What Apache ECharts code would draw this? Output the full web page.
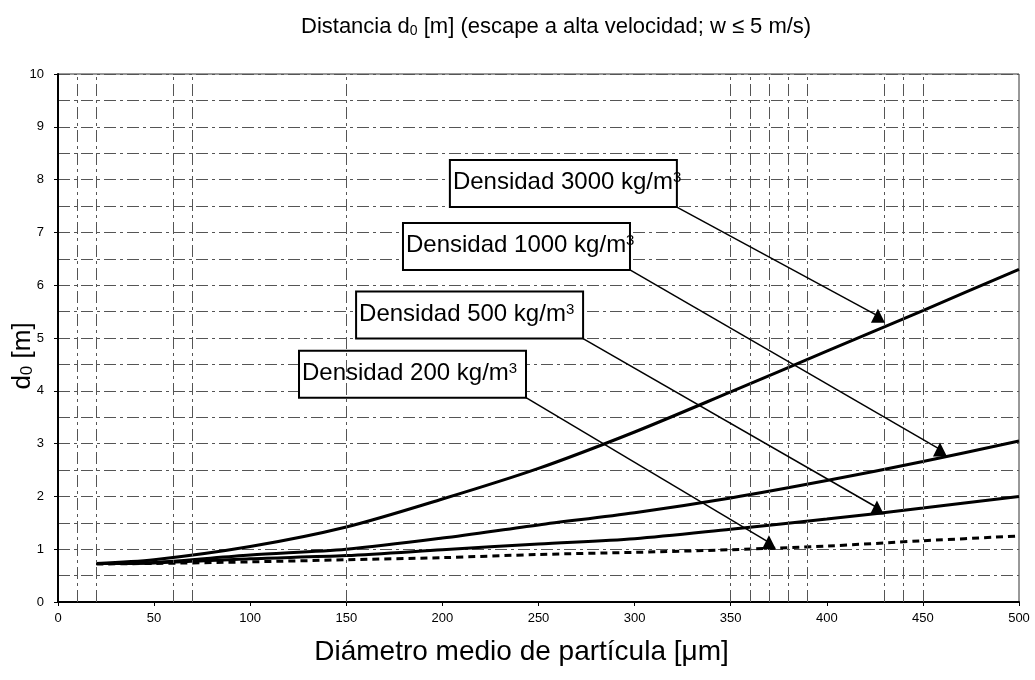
<!DOCTYPE html>
<html>
<head>
<meta charset="utf-8">
<title>Distancia d0</title>
<script src="https://cdn.jsdelivr.net/npm/echarts@6/dist/echarts.min.js"></script>
<style>
  html, body { margin: 0; padding: 0; background: #fff; }
  #chart { width: 1035px; height: 680px; }
</style>
</head>
<body>
<div id="chart"></div>
<script>
// diámetro medio de partícula [µm]
var diam = [20, 50, 100, 150, 200, 250, 300, 350, 400, 450, 500];
// d0 [m] por densidad
var d3000 = [0.73, 0.80, 1.05, 1.42, 1.95, 2.53, 3.22, 3.98, 4.75, 5.52, 6.30];
var d1000 = [0.73, 0.75, 0.89, 1.00, 1.21, 1.46, 1.69, 1.97, 2.30, 2.66, 3.05];
var d500 = [0.73, 0.74, 0.82, 0.88, 0.99, 1.10, 1.20, 1.38, 1.57, 1.78, 2.00];
var d200 = [0.72, 0.73, 0.76, 0.80, 0.84, 0.90, 0.94, 0.99, 1.06, 1.16, 1.25];

var densities = ['3000', '1000', '500', '200'];
// flechas de las etiquetas (inicio en la esquina del recuadro, fin en la punta)
var arrowFrom = [[322, 7.48], [297.6, 6.29], [273.2, 4.99], [243.5, 3.87]];
var arrowTo = [[426.6, 5.42], [458.9, 2.89], [426.1, 1.79], [369.9, 1.13]];
// líneas verticales de la cuadrícula
var vGridX = [10, 20, 60, 70, 150, 350, 360, 370, 380, 390, 430, 440, 450];

var FONT = '"Liberation Sans", Arial, sans-serif';
var gridLine = { color: '#555', width: 1, type: [12, 4, 3, 4] };

function pairs(xs, ys) {
  return xs.map(function(x, i) { return [x, ys[i]]; });
}

var chart = echarts.init(document.getElementById('chart'), null, { renderer: 'canvas' });

chart.setOption({
  animation: false,
  backgroundColor: '#fff',
  title: {
    text: 'Distancia d{sub|0} [m] (escape a alta velocidad; w ≤ 5 m/s)',
    left: 296,
    top: 11,
    textStyle: {
      fontFamily: FONT, fontSize: 22, fontWeight: 'normal', color: '#000',
      rich: {
        sub: { fontFamily: FONT, fontSize: 14, verticalAlign: 'bottom', color: '#000' }
      }
    }
  },
  grid: {
    left: 58, right: 16, top: 74, bottom: 78,
    containLabel: false,
    outerBoundsMode: 'none',
    show: true, borderColor: '#333', borderWidth: 1
  },
  xAxis: {
    type: 'value',
    min: 0, max: 500, interval: 50,
    name: 'Diámetro medio de partícula [μm]',
    nameLocation: 'middle',
    nameGap: 36,
    nameTextStyle: { fontFamily: FONT, fontSize: 28, color: '#000', padding: [0, 34, 0, 0] },
    axisLine: { lineStyle: { color: '#000', width: 2 } },
    axisTick: { show: true, length: 4, lineStyle: { color: '#000' } },
    axisLabel: { fontFamily: FONT, fontSize: 13, color: '#000', margin: 10 },
    splitLine: { show: false }
  },
  yAxis: {
    type: 'value',
    min: 0, max: 10, interval: 1,
    name: 'd{sub|0} [m]',
    nameLocation: 'middle',
    nameRotate: 90,
    nameGap: 22,
    nameMoveOverlap: false,
    nameTextStyle: {
      fontFamily: FONT, fontSize: 26, color: '#000', padding: [0, 36, 0, 0],
      rich: { sub: { fontFamily: FONT, fontSize: 17, verticalAlign: 'bottom', color: '#000' } }
    },
    axisLine: { lineStyle: { color: '#000', width: 2 } },
    axisTick: { show: true, length: 4, lineStyle: { color: '#000' } },
    axisLabel: { fontFamily: FONT, fontSize: 13, color: '#000', margin: 14 },
    splitLine: { show: true, lineStyle: gridLine },
    minorTick: { show: false, splitNumber: 2 },
    minorSplitLine: { show: true, lineStyle: gridLine }
  },
  series: [
    {
      name: 'grid',
      type: 'line',
      data: [],
      silent: true,
      markLine: {
        silent: true,
        symbol: 'none',
        label: { show: false },
        lineStyle: gridLine,
        data: vGridX.map(function(x) { return { xAxis: x }; })
      }
    },
    {
      name: 'Densidad 3000', type: 'line', smooth: 0.3, showSymbol: false,
      data: pairs(diam, d3000),
      lineStyle: { color: '#000', width: 3 }
    },
    {
      name: 'Densidad 1000', type: 'line', smooth: 0.3, showSymbol: false,
      data: pairs(diam, d1000),
      lineStyle: { color: '#000', width: 3 }
    },
    {
      name: 'Densidad 500', type: 'line', smooth: 0.3, showSymbol: false,
      data: pairs(diam, d500),
      lineStyle: { color: '#000', width: 3 }
    },
    {
      name: 'Densidad 200', type: 'line', smooth: 0.3, showSymbol: false,
      data: pairs(diam, d200),
      lineStyle: { color: '#000', width: 3, type: [7, 5] }
    },
    {
      name: 'arrows',
      type: 'line',
      data: [],
      silent: true,
      markLine: {
        silent: true,
        symbol: ['none', 'triangle'],
        symbolSize: 14,
        symbolRotate: 0,
        label: { show: false },
        lineStyle: { color: '#000', width: 1.5, type: 'solid' },
        itemStyle: { color: '#000' },
        data: arrowFrom.map(function(p, i) {
          return [{ coord: p }, { coord: arrowTo[i] }];
        })
      }
    }
  ]
});

// recuadros de texto, anclados por su esquina inferior derecha al inicio de cada flecha
var boxW = 227, boxH = 47;
var boxes = densities.map(function(d, i) {
  var pt = chart.convertToPixel({ gridIndex: 0 }, arrowFrom[i]);
  return {
    type: 'group',
    x: pt[0] - boxW,
    y: pt[1] - boxH,
    z: 100,
    children: [
      {
        type: 'rect',
        shape: { x: 0, y: 0, width: boxW, height: boxH },
        style: { fill: '#fff', stroke: '#000', lineWidth: 2 }
      },
      {
        type: 'text',
        x: 3,
        y: boxH / 2 - 1,
        style: {
          text: 'Densidad ' + d + ' kg/m{sup|3}',
          fontFamily: FONT, fontSize: 24, fill: '#000',
          verticalAlign: 'middle',
          rich: {
            sup: { fontFamily: FONT, fontSize: 15, verticalAlign: 'top', fill: '#000' }
          }
        }
      }
    ]
  };
});
chart.setOption({ graphic: boxes });

window.addEventListener('resize', function() { chart.resize(); });
</script>
</body>
</html>
